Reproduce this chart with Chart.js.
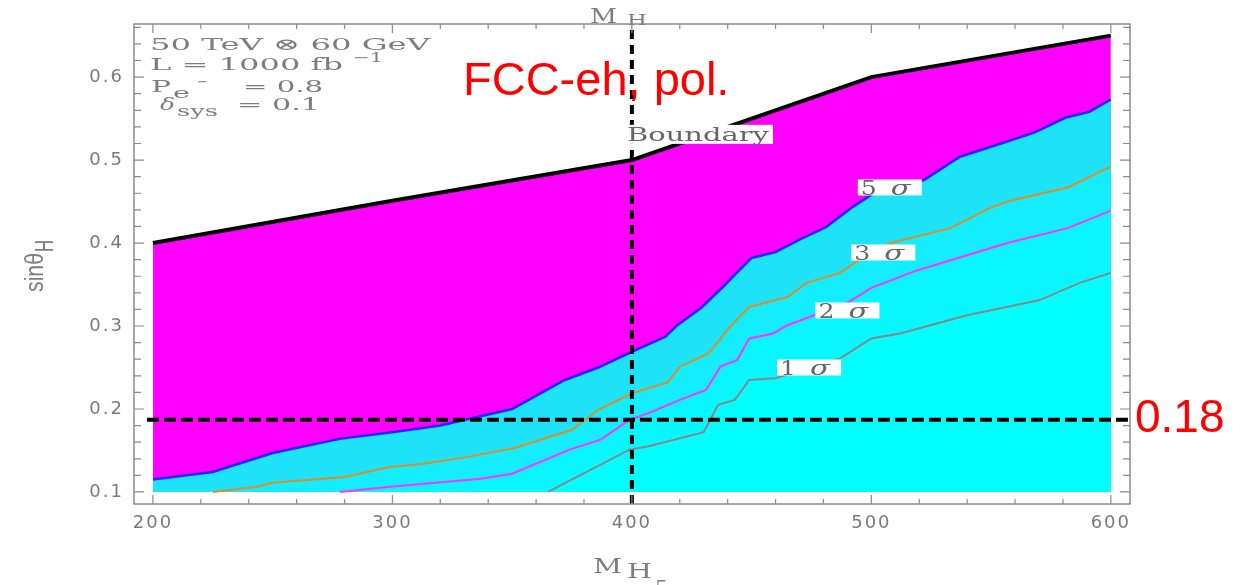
<!DOCTYPE html>
<html>
<head>
<meta charset="utf-8">
<script src="https://cdn.jsdelivr.net/npm/chart.js@4.4.1/dist/chart.umd.min.js"></script>
<style>
  html, body { margin: 0; padding: 0; background: #fff; }
  canvas { display: block; }
</style>
</head>
<body>
<canvas id="chart" width="1255" height="585"></canvas>
<script>
// Datos
const xTicks = [200, 300, 400, 500, 600];
const yTicks = [0.1, 0.2, 0.3, 0.4, 0.5, 0.6];

// Límite físico (línea negra)
const boundaryM = [200, 300, 400, 415, 500, 600];
const boundaryS = [0.400, 0.451, 0.500, 0.515, 0.600, 0.650];

// Contorno 5 sigma
const sigma5M = [200, 225, 250, 278, 300, 320, 350, 372, 386, 400, 414, 419, 429, 438, 442, 450, 460, 470, 481, 492, 501, 522, 537, 550, 568, 581, 591, 600];
const sigma5S = [0.115, 0.124, 0.147, 0.164, 0.172, 0.180, 0.200, 0.235, 0.250, 0.269, 0.287, 0.301, 0.322, 0.347, 0.359, 0.382, 0.389, 0.404, 0.419, 0.443, 0.460, 0.476, 0.504, 0.516, 0.533, 0.551, 0.558, 0.573];

// Contorno 3 sigma
const sigma3M = [225, 243, 250, 280, 299, 313, 331, 351, 375, 386, 400, 407, 415, 420, 432, 441, 449, 465, 473, 487, 495, 508, 533, 550, 558, 582, 600];
const sigma3S = [0.100, 0.106, 0.111, 0.118, 0.130, 0.134, 0.142, 0.153, 0.175, 0.199, 0.219, 0.225, 0.232, 0.251, 0.267, 0.299, 0.323, 0.335, 0.352, 0.364, 0.380, 0.400, 0.418, 0.443, 0.451, 0.467, 0.492];

// Contorno 2 sigma
const sigma2M = [278, 298, 337, 350, 374, 387, 399, 407, 420, 431, 437, 444, 449, 459, 465, 490, 500, 519, 550, 558, 582, 600];
const sigma2S = [0.100, 0.106, 0.116, 0.122, 0.151, 0.163, 0.187, 0.195, 0.211, 0.223, 0.251, 0.259, 0.285, 0.291, 0.301, 0.328, 0.346, 0.367, 0.394, 0.401, 0.418, 0.439];

// Contorno 1 sigma
const sigma1M = [365, 399, 407, 430, 436, 443, 449, 460, 487, 500, 512, 540, 560, 570, 587, 600];
const sigma1S = [0.100, 0.151, 0.155, 0.172, 0.205, 0.211, 0.235, 0.237, 0.261, 0.285, 0.291, 0.313, 0.325, 0.331, 0.352, 0.364];

// Líneas de referencia
const refMass = 400;
const refSin = 0.187;
const refLabel = '0.18';

// Etiquetas de contorno: texto, masa, sinθ
const contourLabels = [
    ['Boundary', 428, 0.531],
    ['5 σ', 507.7, 0.467],
    ['3 σ', 505, 0.3886],
    ['2 σ', 490, 0.3187],
    ['1 σ', 474, 0.250]
];

const xMin = 192.1, xMax = 608.0;
const yMin = 0.0855, yMax = 0.664;

function toPoints(xs, ys) {
    return xs.map((x, i) => ({ x: x, y: ys[i] }));
}

// Dibuja texto estirado horizontalmente a un ancho dado
function stretchText(ctx, text, x, y, width, font) {
    ctx.save();
    ctx.font = font;
    ctx.letterSpacing = '0px';
    const w = ctx.measureText(text).width;
    ctx.translate(x, y);
    ctx.scale(width / w, 1);
    ctx.textAlign = 'left';
    ctx.textBaseline = 'alphabetic';
    ctx.fillText(text, 0, 0);
    ctx.restore();
}

const serif = '"DejaVu Serif", serif';

const decorPlugin = {
    id: 'decor',
    beforeDraw(chart) {
        chart.ctx.letterSpacing = '2px';
    },
    afterDatasetsDraw(chart) {
        const ctx = chart.ctx;
        const a = chart.chartArea;
        const xs = chart.scales.x, ys = chart.scales.y;
        ctx.save();
        ctx.letterSpacing = '0px';

        // marco
        ctx.strokeStyle = '#8c8c8c';
        ctx.lineWidth = 1.5;
        ctx.strokeRect(a.left, a.top, a.right - a.left, a.bottom - a.top);

        // marcas hacia dentro
        ctx.lineWidth = 1.2;
        ctx.beginPath();
        for (let m = 200; m <= 600; m += 20) {
            const px = xs.getPixelForValue(m);
            const len = (m % 100 === 0) ? 9 : 5;
            ctx.moveTo(px, a.bottom); ctx.lineTo(px, a.bottom - len);
            ctx.moveTo(px, a.top); ctx.lineTo(px, a.top + len);
        }
        for (let k = 5; k <= 33; k++) {
            const v = k * 0.02;
            const py = ys.getPixelForValue(v);
            const len = (k % 5 === 0) ? 10 : 7;
            ctx.moveTo(a.left, py); ctx.lineTo(a.left + len, py);
            ctx.moveTo(a.right, py); ctx.lineTo(a.right - len, py);
        }
        ctx.stroke();

        // etiquetas de contorno con caja blanca
        contourLabels.forEach(([t, m, s]) => {
            const cx = xs.getPixelForValue(m), cy = ys.getPixelForValue(s);
            const w = t === 'Boundary' ? 148 : 64;
            const h = t === 'Boundary' ? 19 : 16;
            ctx.fillStyle = '#fff';
            ctx.fillRect(cx - w / 2, cy - h / 2, w, h);
            ctx.fillStyle = '#666';
            if (t === 'Boundary') {
                stretchText(ctx, t, cx - w / 2 + 2, cy + 7, w - 6, '18px ' + serif);
            } else {
                stretchText(ctx, t.charAt(0), cx - w / 2 + 3, cy + 7.5, 16, '20px ' + serif);
                stretchText(ctx, 'σ', cx - w / 2 + 33, cy + 7.5, 20, 'italic 20px ' + serif);
            }
        });

        // bloque de texto superior izquierdo
        ctx.fillStyle = '#7d7d7d';
        stretchText(ctx, '50 TeV ⊗ 60 GeV', 150, 50, 280, '17px ' + serif);
        stretchText(ctx, 'L = 1000 fb', 150, 70, 193, '17px ' + serif);
        stretchText(ctx, '−1', 353, 62, 30, '13px ' + serif);
        stretchText(ctx, 'P', 151, 92, 20, '17px ' + serif);
        stretchText(ctx, 'e', 173, 98, 17, '14px ' + serif);
        stretchText(ctx, '−', 197, 86, 11, '13px ' + serif);
        stretchText(ctx, '= 0.8', 243, 92, 80, '17px ' + serif);
        stretchText(ctx, 'δ', 160, 110, 15, 'italic 17px ' + serif);
        stretchText(ctx, 'sys', 177, 116, 41, '14px ' + serif);
        stretchText(ctx, '= 0.1', 237, 110, 83, '17px ' + serif);

        // títulos de ejes
        stretchText(ctx, 'M', 590, 23, 27, '20px ' + serif);
        stretchText(ctx, 'H', 627, 25, 20, '14px ' + serif);
        stretchText(ctx, 'M', 593, 573, 29, '21px ' + serif);
        stretchText(ctx, 'H', 627, 578, 25, '20px ' + serif);
        stretchText(ctx, '5', 655, 594, 13, '18px ' + serif);

        ctx.save();
        ctx.translate(43, 292);
        ctx.rotate(-Math.PI / 2);
        stretchText(ctx, 'sinθ', 0, 0, 39, '26px "Liberation Sans", sans-serif');
        ctx.restore();
        ctx.save();
        ctx.translate(53, 252);
        ctx.rotate(-Math.PI / 2);
        stretchText(ctx, 'H', 0, 0, 12, '26px "Liberation Sans", sans-serif');
        ctx.restore();

        // anotaciones rojas
        ctx.fillStyle = '#ff0000';
        ctx.font = '47px "Liberation Sans", Arial, sans-serif';
        ctx.textAlign = 'left';
        ctx.textBaseline = 'alphabetic';
        ctx.fillText('FCC-eh, pol.', 463, 95);
        ctx.font = '46px "Liberation Sans", Arial, sans-serif';
        ctx.fillText(refLabel, 1135, 432);

        ctx.restore();
    }
};

const ctx = document.getElementById('chart').getContext('2d');
new Chart(ctx, {
    type: 'line',
    data: {
        datasets: [{
            label: 'Boundary',
            data: toPoints(boundaryM, boundaryS),
            borderColor: '#000',
            borderWidth: 4,
            backgroundColor: '#ff00ff',
            fill: { value: 0.1 },
            order: 7
        }, {
            label: '5 sigma',
            data: toPoints(sigma5M, sigma5S),
            borderColor: '#2626ff',
            borderWidth: 2.5,
            backgroundColor: '#1ee3f8',
            fill: { value: 0.1 },
            order: 6
        }, {
            label: '3 sigma',
            data: toPoints(sigma3M, sigma3S),
            borderColor: '#e08c2a',
            borderWidth: 2,
            backgroundColor: '#13edfd',
            fill: { value: 0.1 },
            order: 5
        }, {
            label: '2 sigma',
            data: toPoints(sigma2M, sigma2S),
            borderColor: '#ff33ff',
            borderWidth: 2,
            backgroundColor: '#09f6ff',
            fill: { value: 0.1 },
            order: 4
        }, {
            label: '1 sigma',
            data: toPoints(sigma1M, sigma1S),
            borderColor: '#888888',
            borderWidth: 2,
            backgroundColor: '#00ffff',
            fill: { value: 0.1 },
            order: 3
        }, {
            label: 'ref sin',
            data: [{ x: 197.5, y: refSin }, { x: 608.5, y: refSin }],
            borderColor: '#000',
            borderWidth: 4,
            borderDash: [12, 5],
            fill: false,
            clip: false,
            order: 1
        }, {
            label: 'ref mass',
            data: [{ x: refMass, y: yMin }, { x: refMass, y: 0.661 }],
            borderColor: '#000',
            borderWidth: 4,
            borderDash: [9, 6],
            fill: false,
            clip: false,
            order: 1
        }]
    },
    options: {
        responsive: false,
        animation: false,
        devicePixelRatio: 1,
        layout: { padding: { left: 0, right: 125, top: 24, bottom: 0 } },
        elements: { point: { radius: 0 }, line: { tension: 0 } },
        plugins: {
            legend: { display: false },
            tooltip: { enabled: false }
        },
        scales: {
            x: {
                type: 'linear',
                min: xMin,
                max: xMax,
                afterBuildTicks: s => { s.ticks = xTicks.map(v => ({ value: v })); },
                afterFit: s => { s.height = 81; },
                grid: { display: false, drawTicks: false },
                border: { display: false },
                ticks: {
                    color: '#7a7a7a',
                    font: { family: '"DejaVu Sans", sans-serif', size: 18 },
                    padding: 9,
                    maxRotation: 0,
                    callback: v => String(v)
                }
            },
            y: {
                type: 'linear',
                min: yMin,
                max: yMax,
                afterBuildTicks: s => { s.ticks = yTicks.map(v => ({ value: v })); },
                afterFit: s => { s.width = 134; },
                grid: { display: false, drawTicks: false },
                border: { display: false },
                ticks: {
                    color: '#7a7a7a',
                    font: { family: '"DejaVu Sans", sans-serif', size: 18 },
                    padding: 10,
                    callback: v => v.toFixed(1)
                }
            }
        }
    },
    plugins: [decorPlugin]
});
</script>
</body>
</html>
